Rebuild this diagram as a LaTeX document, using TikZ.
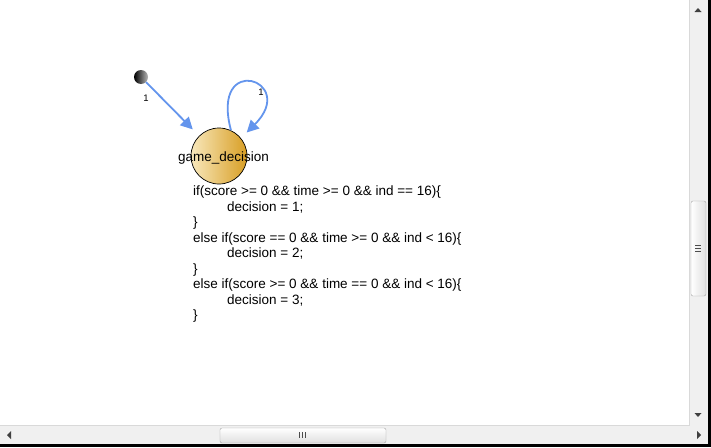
\documentclass[tikz,border=0pt]{standalone}
\usepackage{fontspec}
\setmainfont{Liberation Sans}
\usetikzlibrary{arrows.meta}
\definecolor{edgeblue}{RGB}{100,149,237}
\definecolor{goldlight}{RGB}{248,232,188}
\definecolor{golddark}{RGB}{216,158,36}
\definecolor{barbg}{RGB}{240,240,240}
\definecolor{barline}{RGB}{165,165,165}
\begin{document}
\begin{tikzpicture}[x=1pt,y=1pt,every node/.style={font=\fontsize{13.5}{15.5}\selectfont},
  edge/.style={edgeblue,line width=1.8pt,-{Triangle[length=12pt,width=12pt]}},
  num/.style={font=\fontsize{9.5}{11}\selectfont},
  thumb/.style={draw=barline,rounded corners=2pt},
  grip/.style={gray!60!black,line width=0.7pt}]
\useasboundingbox (0,0) rectangle (711,-447);
\fill[white] (0,0) rectangle (711,-447);
% state machine
\node[circle,inner sep=0,minimum size=14pt,left color=black,right color=gray!55] (init) at (141,-77) {};
\node[circle,draw,line width=0.7pt,inner sep=0,minimum size=56pt,left color=goldlight,right color=golddark] (st) at (219,-156) {};
\node (stlabel) at (223.5,-158.5) {game\_decision};
\draw[edge,shorten >=9pt] (init) -- (st);
\draw[edge,shorten >=8pt] (st.65) to[out=105,in=45,distance=82pt] (st.39);
\node[num] (n1) at (146,-98) {1};
\node[num] (n2) at (261,-92) {1};
\node[anchor=north west,inner sep=0,align=left] (code) at (193,-186) {if(score >= 0 \&\& time >= 0 \&\& ind == 16)\{\\
\hspace*{34pt}decision = 1;\\
\}\\
else if(score == 0 \&\& time >= 0 \&\& ind < 16)\{\\
\hspace*{34pt}decision = 2;\\
\}\\
else if(score >= 0 \&\& time == 0 \&\& ind < 16)\{\\
\hspace*{34pt}decision = 3;\\
\}};
% scrollbars
\fill[barbg] (689,0) rectangle (708,-425);
\fill[barbg] (0,-425) rectangle (708,-444);
\draw[white!85!black,line width=0.5pt] (0,-425) -- (689,-425) -- (689,0);
\draw[thumb,left color=white,right color=gray!25] (691,-201) rectangle (706,-296);
\foreach \dy in {-3,0,3} \draw[grip] (695,-248.5+\dy) -- (701,-248.5+\dy);
\draw[thumb,top color=white,bottom color=gray!25] (220,-428) rectangle (386,-443);
\foreach \dx in {-3,0,3} \draw[grip] (302.5+\dx,-432) -- (302.5+\dx,-438);
\fill[gray!50!black] (694.5,-12) -- (701.5,-12) -- (698,-8) -- cycle;
\fill[gray!50!black] (694.5,-413) -- (701.5,-413) -- (698,-417) -- cycle;
\fill[gray!50!black] (11,-431) -- (11,-439) -- (7,-435) -- cycle;
\fill[gray!50!black] (697,-431) -- (697,-439) -- (701,-435) -- cycle;
\fill[black] (708,0) rectangle (711,-447);
\fill[black] (0,-444) rectangle (711,-447);
\end{tikzpicture}
\end{document}
